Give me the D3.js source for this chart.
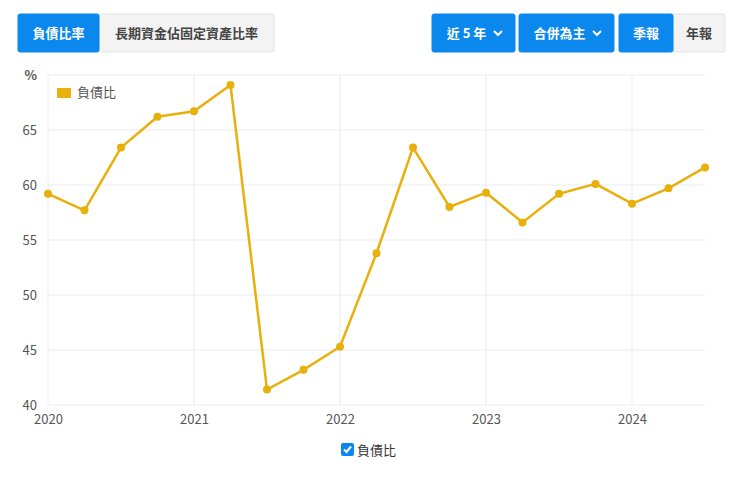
<!DOCTYPE html>
<html>
<head>
<meta charset="utf-8">
<script src="https://cdn.jsdelivr.net/npm/d3@7"></script>
<style>
  body { margin: 0; background: #fff; font-family: "Noto Sans CJK TC", "Noto Sans", sans-serif; }
  svg text { font-family: "Noto Sans CJK TC", "Noto Sans", sans-serif; }
</style>
</head>
<body>
<div id="chart"></div>
<script>
// quarters from 2020 Q1 to 2024 Q3 (decimal years)
const quarters = [2020, 2020.25, 2020.5, 2020.75, 2021, 2021.25, 2021.5, 2021.75,
  2022, 2022.25, 2022.5, 2022.75, 2023, 2023.25, 2023.5, 2023.75, 2024, 2024.25, 2024.5];
const debtRatio = [59.2, 57.7, 63.4, 66.2, 66.7, 69.1, 41.4, 43.2,
  45.3, 53.8, 63.4, 58.0, 59.3, 56.6, 59.2, 60.1, 58.3, 59.7, 61.6];
const yearTicks = [2020, 2021, 2022, 2023, 2024];
const yTicks = [40, 45, 50, 55, 60, 65, 70];
const seriesName = "負債比";

const W = 740, H = 478;
const margin = { top: 75, right: 35, bottom: 73, left: 48 };
const width = W - margin.left - margin.right;
const height = H - margin.top - margin.bottom;

const root = d3.select("#chart").append("svg")
  .attr("width", W)
  .attr("height", H);

// top button bars
const blue = "#0b88ee";
function button(x, w, label, active, caret) {
  const g = root.append("g");
  g.append("rect")
    .attr("x", x).attr("y", 14).attr("width", w).attr("height", 38)
    .attr("rx", 2)
    .attr("fill", active ? blue : "#f3f3f3")
    .attr("stroke", active ? blue : "#e3e3e3");
  g.append("text")
    .attr("x", caret ? x + w / 2 - 7 : x + w / 2).attr("y", 38)
    .attr("text-anchor", "middle")
    .style("font-size", "13px")
    .style("font-weight", "bold")
    .attr("fill", active ? "#fff" : "#444")
    .text(label);
  if (caret) {
    const cx = x + w - 17;
    g.append("path")
      .attr("d", `M${cx - 4},${31} L${cx},${35} L${cx + 4},${31}`)
      .attr("fill", "none")
      .attr("stroke", "#fff")
      .attr("stroke-width", 2);
  }
}
button(99, 175, "長期資金佔固定資產比率", false);
button(18, 81, "負債比率", true);
button(432, 83, "近 5 年", true, true);
button(519, 95, "合併為主", true, true);
button(673, 52, "年報", false);
button(619, 54, "季報", true);

const svg = root.append("g")
  .attr("transform", `translate(${margin.left},${margin.top})`);

const x = d3.scaleLinear().domain([2020, 2024.5]).range([0, width]);
const y = d3.scaleLinear().domain([40, 70]).range([height, 0]);

// grid
svg.append("g")
  .selectAll("line.h")
  .data(yTicks)
  .join("line")
  .attr("x1", 0).attr("x2", width)
  .attr("y1", d => y(d)).attr("y2", d => y(d))
  .attr("stroke", "#ebebeb");

svg.append("g")
  .selectAll("line.v")
  .data(yearTicks)
  .join("line")
  .attr("x1", d => x(d)).attr("x2", d => x(d))
  .attr("y1", 0).attr("y2", height)
  .attr("stroke", "#ebebeb");

// axes
const yAxis = svg.append("g")
  .call(d3.axisLeft(y).tickValues(yTicks.filter(d => d < 70)).tickSize(0).tickPadding(11));
yAxis.select(".domain").remove();
yAxis.selectAll("text").style("font-size", "13px").attr("fill", "#555");

const xAxis = svg.append("g")
  .attr("transform", `translate(0,${height})`)
  .call(d3.axisBottom(x).tickValues(yearTicks).tickFormat(d3.format("d")).tickSize(0).tickPadding(10));
xAxis.select(".domain").remove();
xAxis.selectAll("text").style("font-size", "13px").attr("fill", "#555");

svg.append("text")
  .attr("x", -11).attr("y", y(70) + 5)
  .attr("text-anchor", "end")
  .style("font-size", "13px")
  .style("font-weight", "bold")
  .attr("fill", "#555")
  .text("%");

// line
const data = quarters.map((q, i) => ({ q: q, v: debtRatio[i] }));
const lineColor = "#e8b00c";

svg.append("path")
  .datum(data)
  .attr("fill", "none")
  .attr("stroke", lineColor)
  .attr("stroke-width", 2.5)
  .attr("d", d3.line().x(d => x(d.q)).y(d => y(d.v)));

svg.selectAll("circle")
  .data(data)
  .join("circle")
  .attr("cx", d => x(d.q))
  .attr("cy", d => y(d.v))
  .attr("r", 4)
  .attr("fill", lineColor);

// inner legend
svg.append("rect")
  .attr("x", 9).attr("y", 13).attr("width", 14).attr("height", 10)
  .attr("fill", lineColor);
svg.append("text")
  .attr("x", 29).attr("y", 22)
  .style("font-size", "13px")
  .attr("fill", "#555")
  .text(seriesName);

// bottom checkbox legend
const lg = root.append("g").attr("transform", "translate(341,443)");
lg.append("rect")
  .attr("width", 13).attr("height", 13).attr("rx", 2)
  .attr("fill", blue);
lg.append("path")
  .attr("d", "M3,6.5 L5.5,9 L10,3.5")
  .attr("fill", "none")
  .attr("stroke", "#fff")
  .attr("stroke-width", 2);
lg.append("text")
  .attr("x", 16).attr("y", 12)
  .style("font-size", "13px")
  .attr("fill", "#333")
  .text(seriesName);
</script>
</body>
</html>
